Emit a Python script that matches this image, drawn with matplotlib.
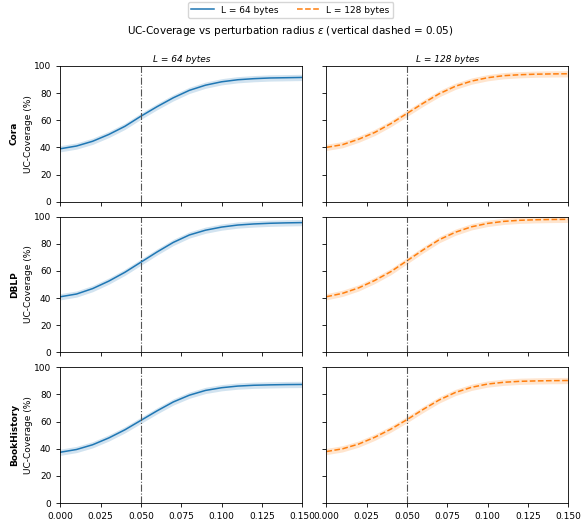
import matplotlib
matplotlib.use("Agg")
import matplotlib.pyplot as plt
import numpy as np

eps = [0.00, 0.01, 0.02, 0.03, 0.04, 0.05, 0.06, 0.07, 0.08, 0.09, 0.10, 0.11, 0.12, 0.13, 0.14, 0.15]
datasets = ["Cora", "DBLP", "BookHistory"]
lengths = ["L = 64 bytes", "L = 128 bytes"]

cora_64 = [39.0, 41.0, 44.5, 49.5, 55.5, 63.0, 70.0, 76.5, 82.0, 85.8, 88.3, 89.8, 90.6, 91.1, 91.3, 91.5]
cora_128 = [40.0, 42.0, 46.0, 51.0, 57.5, 65.0, 72.5, 79.5, 85.0, 88.8, 91.3, 92.8, 93.5, 93.9, 94.1, 94.2]
dblp_64 = [41.0, 43.0, 47.0, 52.5, 59.0, 66.5, 74.0, 81.0, 86.5, 90.0, 92.3, 93.8, 94.6, 95.1, 95.4, 95.6]
dblp_128 = [41.0, 43.5, 47.5, 53.0, 59.5, 67.5, 75.5, 83.0, 88.5, 92.5, 95.0, 96.5, 97.3, 97.7, 97.9, 98.0]
book_64 = [37.5, 39.5, 43.0, 48.0, 54.0, 61.0, 68.0, 74.5, 79.5, 83.0, 85.0, 86.2, 86.8, 87.1, 87.3, 87.4]
book_128 = [38.0, 40.0, 43.5, 48.5, 54.5, 61.5, 69.0, 76.0, 81.5, 85.3, 87.7, 89.0, 89.7, 90.0, 90.2, 90.3]
band = 2.3

values = [[cora_64, cora_128], [dblp_64, dblp_128], [book_64, book_128]]
colors = ["#1f77b4", "#ff7f0e"]
styles = ["-", "--"]

plt.rcParams["font.size"] = 6.5

fig, axes = plt.subplots(3, 2, figsize=(5.81, 5.23), dpi=100, sharex=True, sharey=True)
fig.subplots_adjust(left=0.104, right=0.978, top=0.874, bottom=0.038, wspace=0.1, hspace=0.11)

lines = []
for i, name in enumerate(datasets):
    for j in range(2):
        ax = axes[i, j]
        y = np.array(values[i][j])
        ln, = ax.plot(eps, y, color=colors[j], linestyle=styles[j], linewidth=1.1, label=lengths[j])
        ax.fill_between(eps, y - band, y + band, color=colors[j], alpha=0.2, linewidth=0)
        ax.axvline(0.05, color="#555555", linestyle="-.", linewidth=0.8)
        ax.set_xlim(0, 0.15)
        ax.set_ylim(0, 100)
        ax.set_xticks([0, 0.025, 0.05, 0.075, 0.1, 0.125, 0.15])
        ax.set_yticks([0, 20, 40, 60, 80, 100])
        ax.tick_params(labelsize=6.5, length=3, width=0.6)
        for s in ax.spines.values():
            s.set_linewidth(0.6)
        if i == 0:
            ax.set_title(lengths[j], fontsize=6.5, style="italic", pad=3)
            lines.append(ln)
        if j == 0:
            ax.set_ylabel("UC-Coverage (%)", fontsize=6.5, labelpad=1)
            ax.annotate(name, xy=(-0.19, 0.5), xycoords="axes fraction", rotation=90,
                        ha="center", va="center", fontsize=6.5, fontweight="bold")
    axes[i, 0].xaxis.set_major_formatter(matplotlib.ticker.FormatStrFormatter("%.3f"))

fig.suptitle("UC-Coverage vs perturbation radius $\\epsilon$ (vertical dashed = 0.05)", fontsize=7.5, y=0.955)
fig.legend(lines, lengths, loc="upper center", ncol=2, fontsize=6.5, bbox_to_anchor=(0.5, 1.005),
           frameon=True, handlelength=2.5)

plt.savefig("out.png", dpi=100)
